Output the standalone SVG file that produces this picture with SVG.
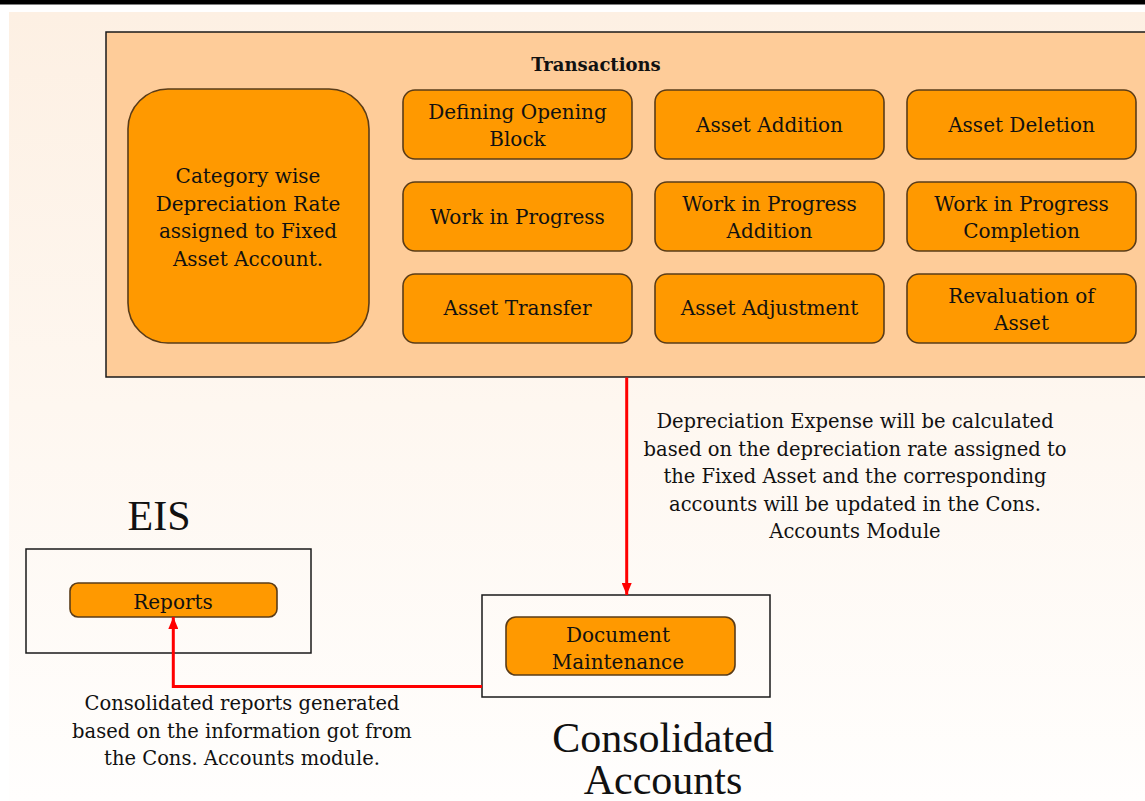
<svg xmlns="http://www.w3.org/2000/svg" width="1145" height="801" viewBox="0 0 1145 801">
<defs>
<linearGradient id="bg" x1="0" y1="0" x2="0" y2="1">
<stop offset="0" stop-color="#FDF0E3"/>
<stop offset="1" stop-color="#FFFEFD"/>
</linearGradient>
<marker id="arr" viewBox="0 0 12 10" refX="12" refY="5" markerWidth="12" markerHeight="10" markerUnits="userSpaceOnUse" orient="auto">
<path d="M0,0 L12,5 L0,10 Z" fill="#FF0000"/>
</marker>
</defs>
<style>
.node{fill:#FF9900;stroke:#5A3C18;stroke-width:1.6}
.frame{fill:none;stroke:#1a1a1a;stroke-width:1.5}
.t{font-family:"DejaVu Serif",serif;font-size:20px;fill:#111;text-anchor:middle}
.n{font-family:"DejaVu Serif",serif;font-size:19.5px;fill:#111;text-anchor:middle}
.big{font-family:"Liberation Serif",serif;font-size:42px;fill:#111;text-anchor:middle}
.conn{fill:none;stroke:#FF0000;stroke-width:3}
</style>
<rect x="0" y="0" width="1145" height="801" fill="#FFFFFF"/>
<rect x="0" y="0" width="1145" height="4.5" fill="#000000"/>
<rect x="9" y="12" width="1136" height="789" fill="url(#bg)"/>

<g id="transactions">
<rect x="106" y="32" width="1050" height="345" fill="#FECC99" stroke="#1a1a1a" stroke-width="1.5"/>
<text x="596" y="71" font-family="DejaVu Serif,serif" font-size="18" font-weight="bold" text-anchor="middle" fill="#111">Transactions</text>
</g>

<g id="category">
<rect class="node" x="128" y="89" width="241" height="254" rx="40"/>
<text class="t" x="248" y="183">Category wise</text>
<text class="t" x="248" y="210.5">Depreciation Rate</text>
<text class="t" x="248" y="238">assigned to Fixed</text>
<text class="t" x="248" y="265.5">Asset Account.</text>
</g>

<g id="opening-block">
<rect class="node" x="403" y="90" width="229" height="69" rx="12"/>
<text class="t" x="517.5" y="119">Defining Opening</text>
<text class="t" x="517.5" y="146">Block</text>
</g>
<g id="asset-addition">
<rect class="node" x="655" y="90" width="229" height="69" rx="12"/>
<text class="t" x="769.5" y="132">Asset Addition</text>
</g>
<g id="asset-deletion">
<rect class="node" x="907" y="90" width="229" height="69" rx="12"/>
<text class="t" x="1021.5" y="132">Asset Deletion</text>
</g>

<g id="wip">
<rect class="node" x="403" y="182" width="229" height="69" rx="12"/>
<text class="t" x="517.5" y="224">Work in Progress</text>
</g>
<g id="wip-addition">
<rect class="node" x="655" y="182" width="229" height="69" rx="12"/>
<text class="t" x="769.5" y="211">Work in Progress</text>
<text class="t" x="769.5" y="238">Addition</text>
</g>
<g id="wip-completion">
<rect class="node" x="907" y="182" width="229" height="69" rx="12"/>
<text class="t" x="1021.5" y="211">Work in Progress</text>
<text class="t" x="1021.5" y="238">Completion</text>
</g>

<g id="asset-transfer">
<rect class="node" x="403" y="274" width="229" height="69" rx="12"/>
<text class="t" x="517.5" y="315">Asset Transfer</text>
</g>
<g id="asset-adjustment">
<rect class="node" x="655" y="274" width="229" height="69" rx="12"/>
<text class="t" x="769.5" y="315">Asset Adjustment</text>
</g>
<g id="revaluation">
<rect class="node" x="907" y="274" width="229" height="69" rx="12"/>
<text class="t" x="1021.5" y="303">Revaluation of</text>
<text class="t" x="1021.5" y="330">Asset</text>
</g>

<g id="eis">
<text class="big" x="159" y="530" font-size="38">EIS</text>
<rect class="frame" x="26" y="549" width="285" height="104"/>
<rect class="node" x="70" y="583" width="207" height="34" rx="8"/>
<text class="t" x="173" y="609">Reports</text>
</g>

<g id="consolidated-accounts">
<rect class="frame" x="482" y="595" width="288" height="102"/>
<rect class="node" x="506" y="617" width="229" height="58" rx="10"/>
<text class="t" x="618" y="642">Document</text>
<text class="t" x="618" y="668.5">Maintenance</text>
<text class="big" x="663" y="752">Consolidated</text>
<text class="big" x="663" y="794">Accounts</text>
</g>

<g id="connectors">
<path class="conn" d="M626.7,377.5 V595" marker-end="url(#arr)"/>
<path class="conn" d="M482,686.5 H173.3 V617" marker-end="url(#arr)"/>
</g>

<g id="notes">
<text class="n" x="855" y="428.3">Depreciation Expense will be calculated</text>
<text class="n" x="855" y="455.8">based on the depreciation rate assigned to</text>
<text class="n" x="855" y="483.3">the Fixed Asset and the corresponding</text>
<text class="n" x="855" y="510.8">accounts will be updated in the Cons.</text>
<text class="n" x="855" y="538.3">Accounts Module</text>
<text class="n" x="242" y="710">Consolidated reports generated</text>
<text class="n" x="242" y="737.5">based on the information got from</text>
<text class="n" x="242" y="765">the Cons. Accounts module.</text>
</g>
</svg>
